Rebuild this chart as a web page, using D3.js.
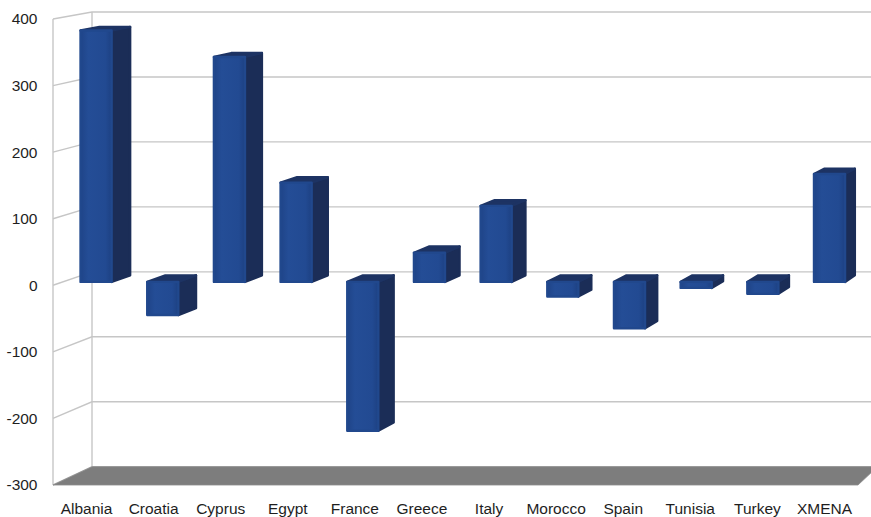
<!DOCTYPE html>
<html>
<head>
<meta charset="utf-8">
<script src="https://cdn.jsdelivr.net/npm/d3@7/dist/d3.min.js"></script>
<style>
  html, body { margin: 0; padding: 0; background: #fff; }
  svg { display: block; }
  .axis text { font-family: "Liberation Sans", Arial, sans-serif; font-size: 15.5px; fill: #1e1e1e; }
</style>
</head>
<body>
<svg id="chart" width="871" height="517"></svg>
<script>
// Net change by country (3D column chart)
const categories = ["Albania", "Croatia", "Cyprus", "Egypt", "France", "Greece",
                    "Italy", "Morocco", "Spain", "Tunisia", "Turkey", "XMENA"];
const values = [380, -50, 340, 150, -225, 44, 115, -22, -70, -9, -18, 163];
const yTicks = [-300, -200, -100, 0, 100, 200, 300, 400];

const svg = d3.select("#chart");

// Front and back planes of the 3D box; depth z runs 0 (front) .. 1 (back)
const yFront = d3.scaleLinear().domain([-300, 400]).range([485, 19]);
const yBack  = d3.scaleLinear().domain([-300, 400]).range([466.7, 12]);
const xFront = d3.scaleLinear().domain([0, 1]).range([53, 858]);
const xBack  = d3.scaleLinear().domain([0, 1]).range([92, 877.5]);
const band   = d3.scaleBand().domain(categories).range([0, 1]);

function P(u, v, z) {
  const xf = xFront(u), xb = xBack(u);
  const yf = yFront(v), yb = yBack(v);
  return [xf + (xb - xf) * z, yf + (yb - yf) * z];
}
const poly = pts => "M" + pts.map(p => p[0].toFixed(2) + "," + p[1].toFixed(2)).join("L") + "Z";

// Walls: gridlines on the left wall and back wall
const grid = svg.append("g").attr("fill", "none").attr("stroke", "#c6c6c6").attr("stroke-width", 1.4);
yTicks.forEach(t => {
  grid.append("path").attr("d", "M" + P(0, t, 0) + "L" + P(0, t, 1) + "L" + P(1, t, 1));
});
grid.append("path").attr("d", "M" + P(0, -300, 0) + "L" + P(0, 400, 0));
grid.append("path").attr("d", "M" + P(0, -300, 1) + "L" + P(0, 400, 1));

// Floor
svg.append("path")
  .attr("d", poly([P(0, -300, 0), P(1, -300, 0), P(1, -300, 1), P(0, -300, 1)]))
  .attr("fill", "#7d7d7d")
  .attr("stroke", "#8a8a8a").attr("stroke-width", 0.8);

// Gradient for the front faces
const defs = svg.append("defs");
const grad = defs.append("linearGradient").attr("id", "frontGrad")
  .attr("x1", "0").attr("x2", "1").attr("y1", "0").attr("y2", "0");
grad.append("stop").attr("offset", "0%").attr("stop-color", "#1f4488");
grad.append("stop").attr("offset", "25%").attr("stop-color", "#244d96");
grad.append("stop").attr("offset", "80%").attr("stop-color", "#224a92");
grad.append("stop").attr("offset", "100%").attr("stop-color", "#1d4183");

// Bars
const z0 = 0.25, z1 = 0.74, half = 0.233;
const bars = svg.append("g").attr("stroke-linejoin", "round");
categories.forEach((c, i) => {
  const v = values[i];
  const uc = band(c) + band.bandwidth() / 2;
  const u0 = uc - band.bandwidth() * half, u1 = uc + band.bandwidth() * half;
  const vt = Math.max(v, 0), vb = Math.min(v, 0);
  const g = bars.append("g");
  g.append("path")
    .attr("d", poly([P(u1, vt, z0), P(u1, vt, z1), P(u1, vb, z1), P(u1, vb, z0)]))
    .attr("fill", "#1b2d57").attr("stroke", "#1b2d57").attr("stroke-width", 2.4);
  g.append("path")
    .attr("d", poly([P(u0, vt, z0), P(u0, vt, z1), P(u1, vt, z1), P(u1, vt, z0)]))
    .attr("fill", "#1d3363").attr("stroke", "#1d3363").attr("stroke-width", 2.4);
  g.append("path")
    .attr("d", poly([P(u0, vt, z0), P(u1, vt, z0), P(u1, vb, z0), P(u0, vb, z0)]))
    .attr("fill", "url(#frontGrad)").attr("stroke", "#21488d").attr("stroke-width", 2.4);
});

// Value axis on the front-left edge (plain hyphen for negatives)
const yAxis = svg.append("g").attr("class", "axis")
  .attr("transform", "translate(40,0)")
  .call(d3.axisLeft(yFront).tickValues(yTicks).tickFormat(d => String(d))
    .tickSize(0).tickPadding(2.5));
yAxis.select(".domain").remove();

// Category axis along the front edge of the floor
const xLabels = d3.scaleBand().domain(categories).range([xFront(0), xFront(1)]);
const xAxis = svg.append("g").attr("class", "axis")
  .attr("transform", "translate(0,500)")
  .call(d3.axisBottom(xLabels).tickSize(0).tickPadding(3));
xAxis.select(".domain").remove();
</script>
</body>
</html>
